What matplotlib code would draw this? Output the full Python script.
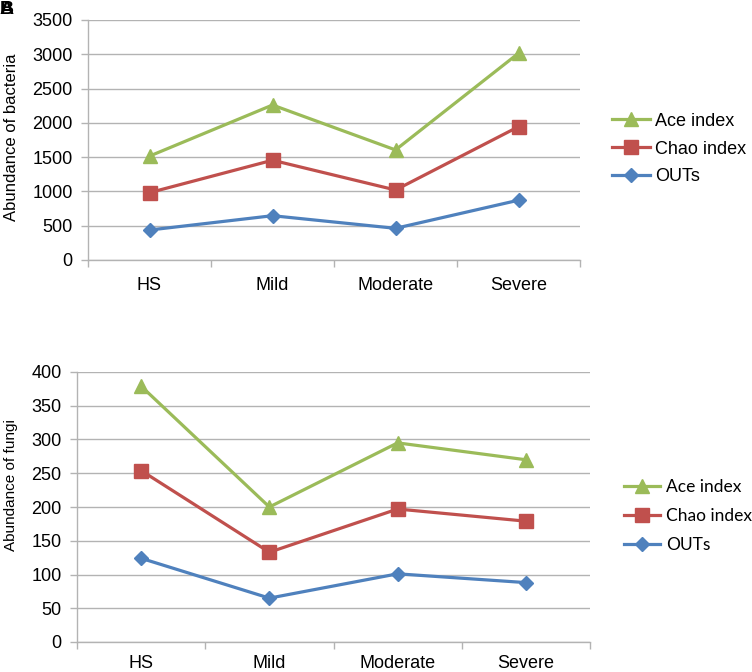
import matplotlib
matplotlib.use("Agg")
import matplotlib.pyplot as plt
import numpy as np

categories = ["HS", "Mild", "Moderate", "Severe"]
series_names = ["Ace index", "Chao index", "OUTs"]

bact_ace = [1515, 2260, 1605, 3015]
bact_chao = [982, 1455, 1021, 1944]
bact_outs = [437, 646, 462, 872]

fungi_ace = [379, 200, 295, 270]
fungi_chao = [254, 133, 197, 179]
fungi_outs = [124, 65, 101, 88]

colors = ["#9BBB59", "#C0504D", "#4F81BD"]
markers = ["^", "s", "D"]
msizes = [10.5, 10, 7.5]
GRID = "#B3B3B3"

plt.rcParams['font.family'] = ['Liberation Sans', 'DejaVu Sans']

W, H = 752, 672
fig = plt.figure(figsize=(W / 100, H / 100), dpi=100)


def make_ax(l, r, t, b, data, ymax, ystep, ylabel, ylabel_size, tick_size,
            xpad, ypad, ylab_xy, leg_pos, leg_font, leg_spacing):
    ax = fig.add_axes([l / W, 1 - b / H, (r - l) / W, (b - t) / H])
    x = np.arange(len(categories))
    for vals, c, m, ms, name in zip(data, colors, markers, msizes, series_names):
        ax.plot(x, vals, color=c, lw=2.3, marker=m, markersize=ms,
                markeredgecolor=c, markerfacecolor=c, label=name, zorder=3)
    ax.set_xlim(-0.5, len(categories) - 0.5)
    ax.set_ylim(0, ymax)
    ax.set_yticks(np.arange(0, ymax + 1, ystep))
    ax.yaxis.grid(True, color=GRID, lw=1)
    ax.set_axisbelow(True)
    for s in ["top", "right"]:
        ax.spines[s].set_visible(False)
    for s in ["left", "bottom"]:
        ax.spines[s].set_color(GRID)
        ax.spines[s].set_linewidth(1)
    ax.set_xticks(x)
    ax.set_xticklabels(categories, fontsize=tick_size)
    ax.set_xticks(np.arange(-0.5, len(categories)), minor=True)
    ax.tick_params(axis='x', which='major', length=0, pad=xpad)
    ax.tick_params(axis='x', which='minor', length=5, color=GRID, width=1)
    ax.tick_params(axis='y', length=5, color=GRID, width=1, labelsize=tick_size, pad=ypad)
    ax.set_ylabel(ylabel, fontsize=ylabel_size)
    ax.yaxis.set_label_coords(*ylab_xy)
    ax.legend(loc='center left', bbox_to_anchor=leg_pos,
              bbox_transform=fig.transFigure, frameon=False, borderpad=0,
              borderaxespad=0, handlelength=2.1, handletextpad=0.3,
              labelspacing=leg_spacing, prop=leg_font)
    return ax


ax1 = make_ax(88, 580, 20, 260, [bact_ace, bact_chao, bact_outs], 3500, 500,
              "Abundance of bacteria", 12, 13, 12, 6,
              ((19 - 88) / 492, 0.51),
              (612 / W, 1 - 149 / H), {'family': ['Liberation Sans'], 'size': 13}, 0.6)
ax2 = make_ax(77, 590, 372, 642, [fungi_ace, fungi_chao, fungi_outs], 400, 50,
              "Abundance of fungi", 11, 13, 9, 6,
              ((18 - 77) / 513, 0.58),
              (624 / W, 1 - 516 / H), {'family': ['Lato', 'DejaVu Sans'], 'size': 12.5}, 0.75)

fig.text(0, 1 - 1 / H, "A", fontsize=14, fontweight='bold', va='top', ha='left')
fig.text(0, 1 - 1 / H, "B", fontsize=14, fontweight='bold', va='top', ha='left')

fig.savefig("out.png", dpi=100)
